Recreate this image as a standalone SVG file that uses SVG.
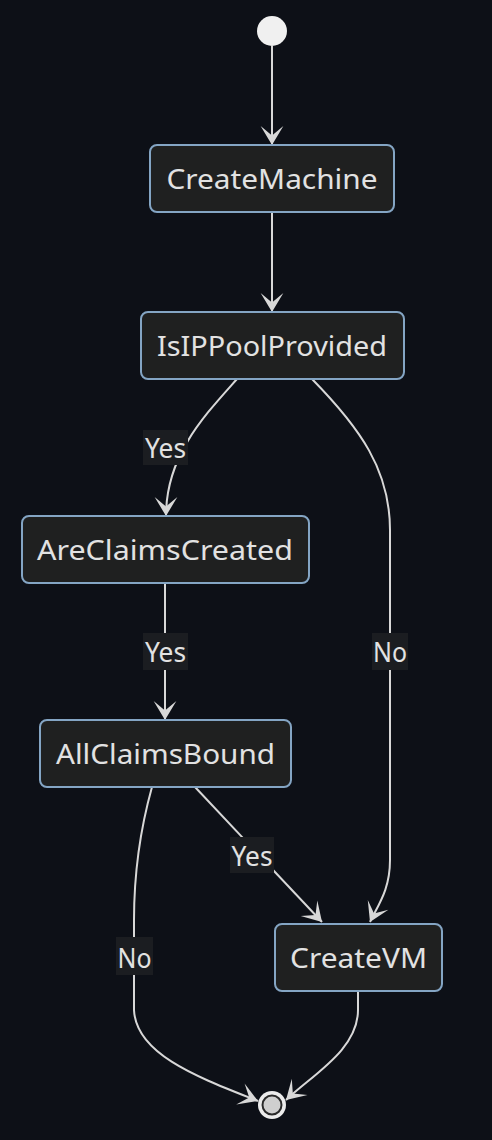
<svg xmlns="http://www.w3.org/2000/svg" width="492" height="1140" viewBox="0 0 492 1140">
<defs>
<marker id="barb" viewBox="0 0 19 14" refX="19" refY="7" markerWidth="36" markerHeight="27" markerUnits="userSpaceOnUse" orient="auto">
<path d="M 19,7 L9,13 L14,7 L9,1 Z" fill="#d8d8d8"/>
</marker>
<style>
.node rect{fill:#1f2020;stroke:#84a5c4;stroke-width:2}
.node text,.lbl text{font-family:"Noto Sans","DejaVu Sans",sans-serif;font-size:28px;fill:#e2e2e2;text-anchor:middle}
.edge{fill:none;stroke:#d8d8d8;stroke-width:2;marker-end:url(#barb)}
.lbl rect{fill:#1b1d21}
</style>
</defs>
<rect width="492" height="1140" fill="#0d1017"/>
<g id="connectors">
<path class="edge" d="M272,46 L272,145"/>
<path class="edge" d="M272,212 L272,312"/>
<path class="edge" d="M237,379 C205,415 166,455 166,516"/>
<path class="edge" d="M312,379 C360,428 390,470 390,530 L390,860 C390,890 378,905 370,922"/>
<path class="edge" d="M165,583 L165,720"/>
<path class="edge" d="M195,787 L322,922"/>
<path class="edge" d="M152,787 C140,830 134,870 134,920 L134,1010 C136,1055 200,1078 258,1101"/>
<path class="edge" d="M358,991 L358,1010 C358,1050 312,1075 286,1100"/>
</g>
<g id="labels">
<g class="lbl" id="lbl-yes1"><rect x="143" y="430" width="45" height="35"/><text x="165.5" y="458" textLength="41" lengthAdjust="spacingAndGlyphs">Yes</text></g>
<g class="lbl" id="lbl-yes2"><rect x="143" y="633" width="45" height="37"/><text x="165.5" y="662" textLength="41" lengthAdjust="spacingAndGlyphs">Yes</text></g>
<g class="lbl" id="lbl-no1"><rect x="372" y="633" width="36" height="37"/><text x="390" y="662" textLength="34" lengthAdjust="spacingAndGlyphs">No</text></g>
<g class="lbl" id="lbl-yes3"><rect x="230" y="837" width="44" height="36"/><text x="252" y="866" textLength="41" lengthAdjust="spacingAndGlyphs">Yes</text></g>
<g class="lbl" id="lbl-no2"><rect x="116" y="937" width="37" height="38"/><text x="134.5" y="968" textLength="34" lengthAdjust="spacingAndGlyphs">No</text></g>
</g>
<g id="start"><circle cx="272" cy="31" r="15" fill="#f0f0f0"/></g>
<g class="node" id="CreateMachine"><rect x="150" y="145" width="244" height="67" rx="7"/><text x="272" y="189" textLength="211" lengthAdjust="spacingAndGlyphs">CreateMachine</text></g>
<g class="node" id="IsIPPoolProvided"><rect x="141" y="312" width="263" height="67" rx="7"/><text x="272" y="356" textLength="230" lengthAdjust="spacingAndGlyphs">IsIPPoolProvided</text></g>
<g class="node" id="AreClaimsCreated"><rect x="22" y="516" width="287" height="67" rx="7"/><text x="165" y="560" textLength="256" lengthAdjust="spacingAndGlyphs">AreClaimsCreated</text></g>
<g class="node" id="AllClaimsBound"><rect x="40" y="720" width="251" height="67" rx="7"/><text x="165.5" y="764" textLength="219" lengthAdjust="spacingAndGlyphs">AllClaimsBound</text></g>
<g class="node" id="CreateVM"><rect x="275" y="924" width="167" height="67" rx="7"/><text x="358.5" y="968" textLength="137" lengthAdjust="spacingAndGlyphs">CreateVM</text></g>
<g id="end"><circle cx="272" cy="1105" r="14" fill="#ececec"/><circle cx="272" cy="1105" r="9.5" fill="#cfcfcf" stroke="#2a2a2a" stroke-width="2"/></g>
</svg>
